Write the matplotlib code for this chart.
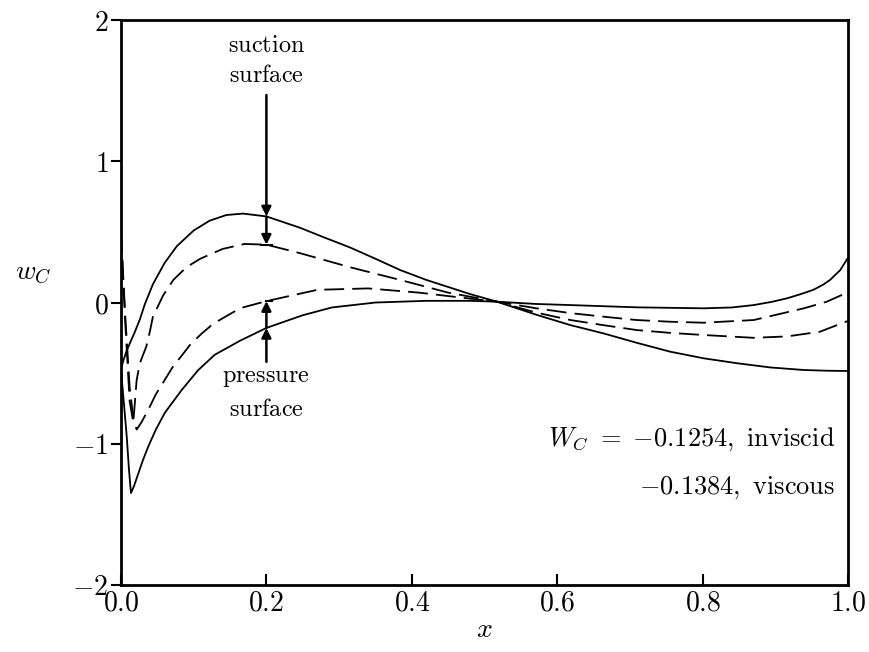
import numpy as np
import matplotlib
matplotlib.use("Agg")
import matplotlib.pyplot as plt

plt.rcParams['mathtext.fontset'] = 'cm'
plt.rcParams['font.family'] = ['DejaVu Serif']

# ---- data ----
x_suc_inv = [0, 0.004, 0.008, 0.013, 0.019, 0.026, 0.033, 0.044, 0.06, 0.077, 0.1, 0.122, 0.145,
             0.168, 0.2, 0.246, 0.28, 0.315, 0.35, 0.384, 0.42, 0.45, 0.48, 0.517, 0.572, 0.618,
             0.663, 0.709, 0.755, 0.801, 0.847, 0.893, 0.939, 0.97, 1.0]
y_suc_inv = [-0.47, -0.40, -0.34, -0.28, -0.21, -0.12, -0.01, 0.13, 0.28, 0.40, 0.51, 0.58, 0.62,
             0.63, 0.61, 0.53, 0.46, 0.39, 0.31, 0.23, 0.16, 0.11, 0.06, 0.006, -0.088, -0.16,
             -0.218, -0.285, -0.348, -0.395, -0.43, -0.46, -0.478, -0.483, -0.485]

x_pre_inv = [0, 0.004, 0.008, 0.011, 0.0138, 0.018, 0.024, 0.03, 0.0376, 0.048, 0.0605, 0.0835,
             0.106, 0.129, 0.164, 0.2, 0.25, 0.29, 0.35, 0.42, 0.48, 0.517, 0.57, 0.618, 0.709,
             0.801, 0.84, 0.87, 0.895, 0.916, 0.935, 0.952, 0.965, 0.975, 0.989, 1.0]
y_pre_inv = [-0.47, -0.71, -0.95, -1.18, -1.35, -1.30, -1.21, -1.12, -1.02, -0.90, -0.78, -0.62,
             -0.48, -0.37, -0.27, -0.18, -0.09, -0.035, 0.0, 0.012, 0.012, 0.006, -0.01, -0.018, -0.034,
             -0.041, -0.035, -0.018, 0.005, 0.03, 0.06, 0.09, 0.125, 0.16, 0.23, 0.32]

x_suc_vis = [0, 0.006, 0.012, 0.017, 0.0216, 0.026, 0.035, 0.04, 0.044, 0.058, 0.072, 0.09, 0.109,
             0.14, 0.17, 0.2, 0.246, 0.315, 0.384, 0.45, 0.517, 0.57, 0.618, 0.663, 0.709, 0.755,
             0.801, 0.87, 0.916, 0.961, 0.991, 1.0]
y_suc_vis = [0.5, -0.15, -0.7, -0.85, -0.55, -0.43, -0.31, -0.2, -0.1, 0.05, 0.16, 0.25, 0.31,
             0.38, 0.415, 0.41, 0.35, 0.25, 0.16, 0.07, 0.006, -0.07, -0.124, -0.16, -0.195, -0.215,
             -0.23, -0.25, -0.24, -0.207, -0.147, -0.13]

x_pre_vis = [0, 0.006, 0.012, 0.017, 0.0216, 0.028, 0.0376, 0.048, 0.06, 0.072, 0.083, 0.095,
             0.111, 0.127, 0.164, 0.2, 0.27, 0.34, 0.41, 0.476, 0.517, 0.57, 0.618, 0.663, 0.709,
             0.755, 0.801, 0.87, 0.939, 0.97, 0.991, 1.0]
y_pre_vis = [0.5, -0.1, -0.6, -0.82, -0.9, -0.85, -0.76, -0.65, -0.55, -0.45, -0.38, -0.30,
             -0.22, -0.15, -0.04, 0.01, 0.09, 0.10, 0.07, 0.03, 0.006, -0.04, -0.075, -0.10, -0.124,
             -0.136, -0.143, -0.124, -0.041, 0.005, 0.053, 0.07]

x_ticks = [0.0, 0.2, 0.4, 0.6, 0.8, 1.0]
x_tick_labels = ['0.0', '0.2', '0.4', '0.6', '0.8', '1.0']
y_ticks = [-2, -1, 0, 1, 2]
y_tick_labels = ['-2', '-1', '0', '1', '2']

arrow_x = 0.2
note_inviscid = r'$W_C\ =\ {-0.1254},\ \mathrm{inviscid}$'
note_viscous = r'${-0.1384},\ \mathrm{viscous}$'

# ---- figure ----
fig = plt.figure(figsize=(8.70, 6.52), dpi=100)
ax = fig.add_axes([0.139, 0.103, 0.836, 0.866])

lw = 1.3
dash = (11, 4.5)
ax.plot(x_suc_inv, y_suc_inv, color='black', lw=lw)
ax.plot(x_pre_inv, y_pre_inv, color='black', lw=lw)
ax.plot(x_suc_vis, y_suc_vis, color='black', lw=lw, dashes=dash)
ax.plot(x_pre_vis, y_pre_vis, color='black', lw=lw, dashes=dash)

ax.set_xlim(0, 1)
ax.set_ylim(-2, 2)
ax.set_xticks(x_ticks)
ax.set_xticklabels(['$' + t + '$' for t in x_tick_labels])
ax.set_yticks(y_ticks)
ax.set_yticklabels(['$' + t + '$' for t in y_tick_labels])
ax.tick_params(axis='x', direction='in', length=8, width=1.5, labelsize=20, pad=3)
ax.tick_params(axis='y', direction='out', length=7, width=1.5, labelsize=20, pad=2)
for s in ax.spines.values():
    s.set_linewidth(2.0)

ax.set_xlabel('$x$', fontsize=20, labelpad=0)
ax.set_ylabel('$w_C$', fontsize=20, rotation=0)
ax.yaxis.set_label_coords(-0.12, 0.53)

# annotations: suction / pressure surface arrows
ys_inv = np.interp(arrow_x, x_suc_inv, y_suc_inv)
ys_vis = np.interp(arrow_x, x_suc_vis, y_suc_vis)
yp_inv = np.interp(arrow_x, x_pre_inv, y_pre_inv)
yp_vis = np.interp(arrow_x, x_pre_vis, y_pre_vis)

tsize = 17.5
ax.text(arrow_x, 1.82, r'$\mathrm{suction}$', ha='center', va='center', fontsize=tsize)
ax.text(arrow_x, 1.61, r'$\mathrm{surface}$', ha='center', va='center', fontsize=tsize)
ax.text(arrow_x, -0.53, r'$\mathrm{pressure}$', ha='center', va='center', fontsize=tsize)
ax.text(arrow_x, -0.76, r'$\mathrm{surface}$', ha='center', va='center', fontsize=tsize)

ap = dict(arrowstyle='-|>', color='black', lw=1.8, mutation_scale=14, shrinkA=0, shrinkB=0)
ax.annotate('', xy=(arrow_x, ys_inv), xytext=(arrow_x, 1.47), arrowprops=ap)
ax.annotate('', xy=(arrow_x, ys_vis), xytext=(arrow_x, ys_inv), arrowprops=ap)
ax.annotate('', xy=(arrow_x, yp_inv), xytext=(arrow_x, -0.42), arrowprops=ap)
ax.annotate('', xy=(arrow_x, yp_vis), xytext=(arrow_x, yp_inv), arrowprops=ap)
ax.plot([arrow_x - 0.008, arrow_x + 0.008], [ys_vis, ys_vis], color='black', lw=1.5)
ax.plot([arrow_x, arrow_x + 0.008], [yp_vis, yp_vis], color='black', lw=1.5)

nsize = 19
ax.text(0.982, -0.97, note_inviscid, ha='right', va='center', fontsize=nsize)
ax.text(0.982, -1.31, note_viscous, ha='right', va='center', fontsize=nsize)

fig.savefig('out.png', dpi=100)
